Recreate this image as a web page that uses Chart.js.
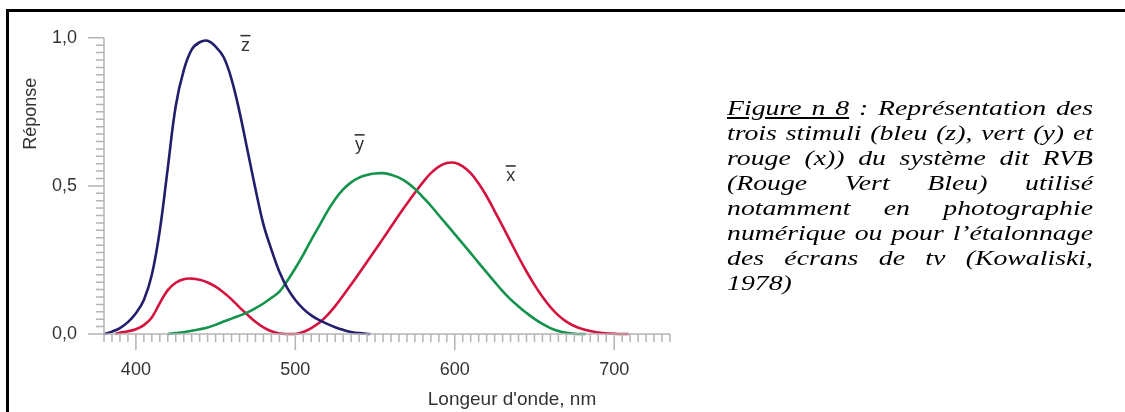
<!DOCTYPE html>
<html>
<head>
<meta charset="utf-8">
<script src="https://cdn.jsdelivr.net/npm/chart.js@4.4.0/dist/chart.umd.min.js"></script>
<style>
  html, body { margin: 0; padding: 0; background: #fff; }
  body { position: relative; width: 1125px; height: 412px; overflow: hidden; }
  #frame { position: absolute; left: 6px; top: 9px; width: 1130px; height: 420px;
           border-left: 3px solid #000; border-top: 3px solid #000; box-sizing: border-box; }
  #chart-box { position: absolute; left: 0; top: 0; width: 700px; height: 412px; }
  /* the caption in the scan is stretched sideways, so squeeze the box and scale it back out */
  #caption { position: absolute; left: 727px; top: 95px; width: 290px;
             transform: scaleX(1.262); transform-origin: 0 0;
             font-family: "Liberation Serif", "Times New Roman", serif; font-style: italic;
             font-size: 22px; line-height: 25px; color: #000; }
  #caption div { text-align: justify; text-align-last: justify; }
  #caption div.last { text-align: left; text-align-last: left; }
</style>
</head>
<body>
<div id="chart-box"><canvas id="cie-chart"></canvas></div>
<div id="frame"></div>
<div id="caption">
  <div><u>Figure n 8</u> : Représentation des</div>
  <div>trois stimuli (bleu (z), vert (y) et</div>
  <div>rouge (x)) du système dit RVB</div>
  <div>(Rouge Vert Bleu) utilisé</div>
  <div>notamment en photographie</div>
  <div>numérique ou pour l’étalonnage</div>
  <div>des écrans de tv (Kowaliski,</div>
  <div class="last">1978)</div>
</div>
<script>
// z bar (blue)
const zWavelengths = [380, 385, 390, 395, 400, 405, 410, 415, 420, 425, 430, 435, 440, 445, 450, 455, 460,
  465, 470, 475, 480, 485, 490, 495, 500, 505, 510, 515, 520, 525, 530, 535, 540, 547];
const zValues = [0, 0.008, 0.02, 0.04, 0.07, 0.115, 0.2, 0.35, 0.56, 0.77, 0.89, 0.96, 0.985, 0.99, 0.97, 0.935, 0.86,
  0.75, 0.62, 0.49, 0.37, 0.285, 0.21, 0.155, 0.115, 0.085, 0.063, 0.047, 0.034, 0.023, 0.014, 0.007, 0.003, 0];

// y bar (green)
const yWavelengths = [420, 425, 430, 435, 440, 445, 450, 455, 460, 465, 470, 475, 480, 485, 490, 495, 500,
  505, 510, 515, 520, 525, 530, 535, 540, 545, 550, 555, 560, 565, 570, 575, 580, 585, 590, 595, 600,
  605, 610, 615, 620, 625, 630, 635, 640, 645, 650, 655, 660, 665, 670, 675, 682];
const yValues = [0, 0.003, 0.006, 0.011, 0.016, 0.022, 0.031, 0.042, 0.052, 0.062, 0.073, 0.087, 0.103, 0.122, 0.143, 0.18, 0.222,
  0.268, 0.318, 0.365, 0.413, 0.455, 0.488, 0.512, 0.528, 0.537, 0.542, 0.543, 0.538, 0.528, 0.512, 0.49, 0.462, 0.433, 0.401, 0.369, 0.337,
  0.305, 0.273, 0.24, 0.208, 0.176, 0.145, 0.117, 0.093, 0.071, 0.051, 0.034, 0.02, 0.01, 0.004, 0.001, 0];

// x bar (red)
const xWavelengths = [387, 390, 395, 400, 405, 410, 415, 420, 425, 430, 435, 440, 445, 450, 455, 460, 465,
  470, 475, 480, 485, 490, 495, 500, 505, 510, 515, 520, 525, 530, 535, 540, 545, 550, 555, 560, 565,
  570, 575, 580, 585, 590, 595, 600, 605, 610, 615, 620, 625, 630, 635, 640, 645, 650, 655, 660, 665,
  670, 675, 680, 685, 690, 700, 709];
const xValues = [0, 0.004, 0.009, 0.016, 0.03, 0.056, 0.104, 0.148, 0.173, 0.185, 0.187, 0.183, 0.174, 0.16, 0.14, 0.117, 0.09,
  0.065, 0.041, 0.022, 0.009, 0.002, 0, 0, 0.007, 0.02, 0.038, 0.063, 0.094, 0.13, 0.167, 0.205, 0.244, 0.283, 0.322, 0.362, 0.402,
  0.44, 0.477, 0.512, 0.543, 0.565, 0.577, 0.578, 0.566, 0.543, 0.508, 0.465, 0.415, 0.364, 0.312, 0.26, 0.211, 0.166, 0.126, 0.091, 0.063,
  0.042, 0.027, 0.017, 0.01, 0.005, 0.001, 0];

const xTickValues = [400, 500, 600, 700];
const yTickValues = [0, 0.5, 1];
const xTitle = "Longeur d'onde, nm";
const yTitle = 'Réponse';
const curveNames = ['z', 'y', 'x'];
const curveLabelWavelengths = [468.7, 540.3, 635.1];
const curveLabelValues = [0.955, 0.62, 0.515];

const axisColor = '#b4b4b4';
const textColor = '#333333';
const fontFamily = '"Liberation Sans", Arial, sans-serif';

function toPoints(wl, vals) {
  return wl.map((w, i) => ({ x: w, y: vals[i] }));
}

const axisPlugin = {
  id: 'axisDecor',
  afterDraw(chart) {
    const ctx = chart.ctx;
    const xs = chart.scales.x;
    const ys = chart.scales.y;
    const area = chart.chartArea;
    ctx.save();
    ctx.strokeStyle = axisColor;
    ctx.lineWidth = 1.5;
    ctx.beginPath();
    // axis lines
    ctx.moveTo(area.left, area.top);
    ctx.lineTo(area.left, area.bottom);
    ctx.moveTo(area.left, area.bottom);
    ctx.lineTo(area.right, area.bottom);
    // x ticks every 5 nm
    for (let v = xs.min; v <= xs.max; v += 5) {
      const px = xs.getPixelForValue(v);
      const len = v % 100 === 0 ? 16 : 8;
      ctx.moveTo(px, area.bottom);
      ctx.lineTo(px, area.bottom + len);
    }
    // y ticks every 0.025
    for (let i = 0; i <= 40; i++) {
      const py = ys.getPixelForValue(i * 0.025);
      const len = i % 20 === 0 ? 16 : 8;
      ctx.moveTo(area.left - len, py);
      ctx.lineTo(area.left, py);
    }
    ctx.stroke();

    // axis titles
    ctx.fillStyle = textColor;
    ctx.textAlign = 'center';
    ctx.textBaseline = 'alphabetic';
    ctx.font = '19px ' + fontFamily;
    ctx.fillText(xTitle, area.left + 408, area.bottom + 71);
    ctx.font = '18px ' + fontFamily;
    ctx.save();
    ctx.translate(area.left - 73, area.top + 76);
    ctx.rotate(-Math.PI / 2);
    ctx.textBaseline = 'middle';
    ctx.fillText(yTitle, 0, 0);
    ctx.restore();

    // curve names with an overbar
    ctx.lineWidth = 1.6;
    ctx.strokeStyle = textColor;
    curveNames.forEach((name, i) => {
      const px = xs.getPixelForValue(curveLabelWavelengths[i]);
      const py = ys.getPixelForValue(curveLabelValues[i]);
      ctx.fillText(name, px, py);
      ctx.beginPath();
      ctx.moveTo(px - 5, py - 15.5);
      ctx.lineTo(px + 5, py - 15.5);
      ctx.stroke();
    });
    ctx.restore();
  }
};

const ctx = document.getElementById('cie-chart');
new Chart(ctx, {
  type: 'line',
  data: {
    datasets: [
      { label: 'z', data: toPoints(zWavelengths, zValues), borderColor: '#221e6c' },
      { label: 'y', data: toPoints(yWavelengths, yValues), borderColor: '#13934c' },
      { label: 'x', data: toPoints(xWavelengths, xValues), borderColor: '#d3123f' }
    ]
  },
  options: {
    responsive: true,
    maintainAspectRatio: false,
    animation: false,
    layout: { padding: { left: 0, right: 30, top: 32, bottom: 0 } },
    elements: {
      point: { radius: 0 },
      line: { borderWidth: 2.6, tension: 0.4, fill: false }
    },
    datasets: { line: { clip: false } },
    plugins: {
      legend: { display: false },
      tooltip: { enabled: false }
    },
    scales: {
      x: {
        type: 'linear',
        min: 380,
        max: 735,
        afterBuildTicks: (scale) => { scale.ticks = xTickValues.map(v => ({ value: v })); },
        afterFit: (scale) => { scale.height = 78; },
        grid: { display: false, drawTicks: false },
        border: { display: false },
        ticks: { padding: 25, color: textColor, font: { family: fontFamily, size: 18 } }
      },
      y: {
        min: 0,
        max: 1,
        afterBuildTicks: (scale) => { scale.ticks = yTickValues.map(v => ({ value: v })); },
        afterFit: (scale) => { scale.width = 104; },
        grid: { display: false, drawTicks: false },
        border: { display: false },
        ticks: {
          padding: 27,
          color: textColor,
          font: { family: fontFamily, size: 18 },
          callback: (v) => v.toFixed(1).replace('.', ',')
        }
      }
    }
  },
  plugins: [axisPlugin]
});
</script>
</body>
</html>
